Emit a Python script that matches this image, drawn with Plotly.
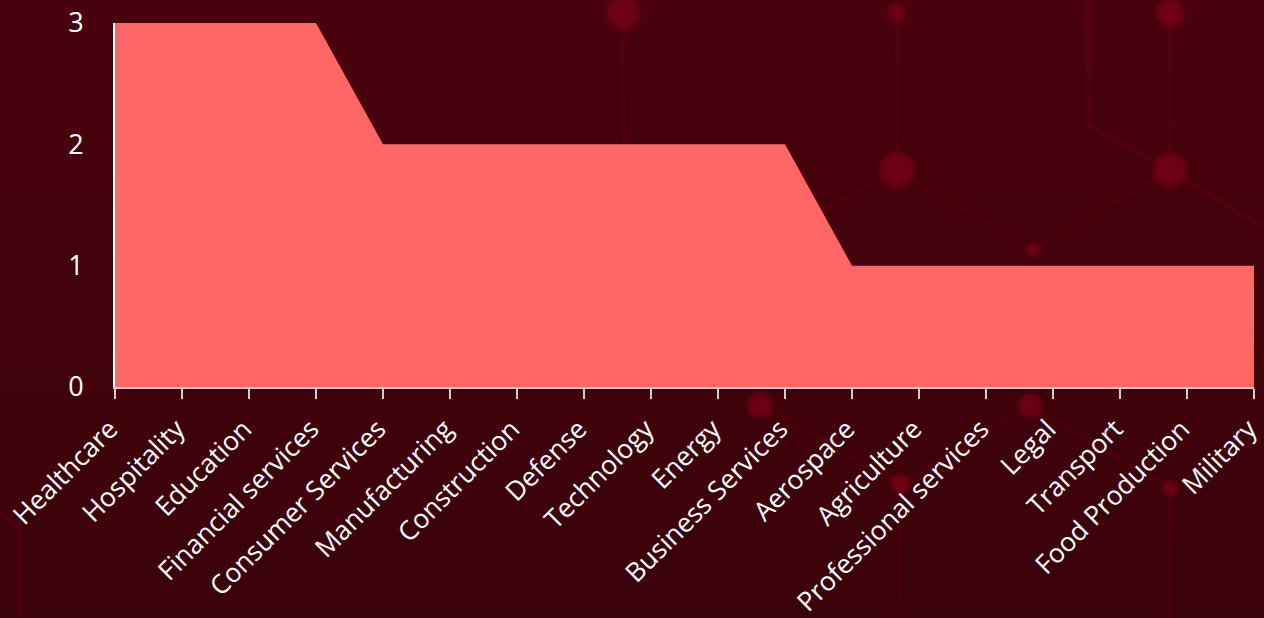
import base64
import plotly.graph_objects as go

categories = ["Healthcare", "Hospitality", "Education", "Financial services",
              "Consumer Services", "Manufacturing", "Construction", "Defense",
              "Technology", "Energy", "Business Services", "Aerospace",
              "Agriculture", "Professional services", "Legal", "Transport",
              "Food Production", "Military"]
values = [3, 3, 3, 3, 2, 2, 2, 2, 2, 2, 2, 1, 1, 1, 1, 1, 1, 1]
y_ticks = [0, 1, 2, 3]

W, H = 1264, 618
ML, MR, MT, MB = 115, 10, 23, 231

# Decorative background (dark red with faint molecular network pattern)
bg_svg = f"""<svg xmlns='http://www.w3.org/2000/svg' width='{W}' height='{H}' viewBox='0 0 {W} {H}'>
<defs>
<linearGradient id='g' x1='0' y1='0' x2='0' y2='1'>
<stop offset='0' stop-color='#49020d'/><stop offset='1' stop-color='#3a0209'/>
</linearGradient>
<filter id='b'><feGaussianBlur stdDeviation='2'/></filter>
</defs>
<rect width='{W}' height='{H}' fill='url(#g)'/>
<g stroke='#6e0417' stroke-width='2' fill='none' opacity='0.6' filter='url(#b)'>
<line x1='623' y1='13' x2='623' y2='150'/>
<line x1='897' y1='12' x2='897' y2='170'/>
<line x1='897' y1='170' x2='815' y2='215'/>
<line x1='897' y1='170' x2='1033' y2='250'/>
<line x1='1033' y1='250' x2='1170' y2='170'/>
<line x1='1170' y1='12' x2='1170' y2='170'/>
<polyline points='1088,0 1088,125 1170,170 1264,228' stroke-width='3'/>
<line x1='760' y1='405' x2='900' y2='483'/>
<line x1='900' y1='483' x2='1030' y2='405'/>
<line x1='1030' y1='405' x2='1170' y2='488'/>
<line x1='1170' y1='488' x2='1170' y2='618'/>
<line x1='900' y1='483' x2='900' y2='618'/>
<polyline points='0,512 20,528 20,618' stroke-width='4'/>
</g>
<g fill='#7a0519' opacity='0.75' filter='url(#b)'>
<circle cx='623' cy='13' r='17'/>
<circle cx='897' cy='12' r='9'/>
<circle cx='1170' cy='13' r='14'/>
<circle cx='897' cy='170' r='18'/>
<circle cx='1170' cy='170' r='17'/>
<circle cx='1033' cy='250' r='7'/>
<circle cx='760' cy='405' r='13'/>
<circle cx='1030' cy='405' r='12'/>
<circle cx='900' cy='483' r='10'/>
<circle cx='1170' cy='488' r='8'/>
</g>
</svg>"""
bg_uri = "data:image/svg+xml;base64," + base64.b64encode(bg_svg.encode()).decode()

pw, ph = W - ML - MR, H - MT - MB

fig = go.Figure()
fig.add_trace(go.Scatter(
    x=categories, y=values, mode="lines", fill="tozeroy",
    line=dict(width=0, color="#FF6666"), fillcolor="#FF6666",
    hoverinfo="x+y", showlegend=False,
))

font_family = "Open Sans, sans-serif"
fig.update_layout(
    width=W, height=H,
    margin=dict(l=ML, r=MR, t=MT, b=MB),
    paper_bgcolor="#42020b",
    plot_bgcolor="rgba(0,0,0,0)",
    font=dict(family=font_family, color="white", size=27),
    images=[dict(
        source=bg_uri, xref="paper", yref="paper",
        x=-ML / pw, y=1 + MT / ph, sizex=W / pw, sizey=H / ph,
        xanchor="left", yanchor="top", sizing="stretch", layer="below",
    )],
    xaxis=dict(
        type="category", range=[0, 17], showgrid=False, zeroline=False,
        showline=True, linecolor="#cfcfcf", linewidth=2, automargin=False,
        ticks="outside", ticklen=10, tickcolor="#cfcfcf", tickwidth=2,
        tickangle=-45, tickfont=dict(size=26.5, color="white"),
        ticklabelstandoff=4, ticklabelshift=-5,
    ),
    yaxis=dict(
        range=[0, 3], tickvals=y_ticks, showgrid=False, zeroline=False,
        showline=True, linecolor="white", linewidth=2, automargin=False,
        ticks="", ticklabelstandoff=24, tickfont=dict(size=27, color="white"),
    ),
)

fig.write_html("out.html")
